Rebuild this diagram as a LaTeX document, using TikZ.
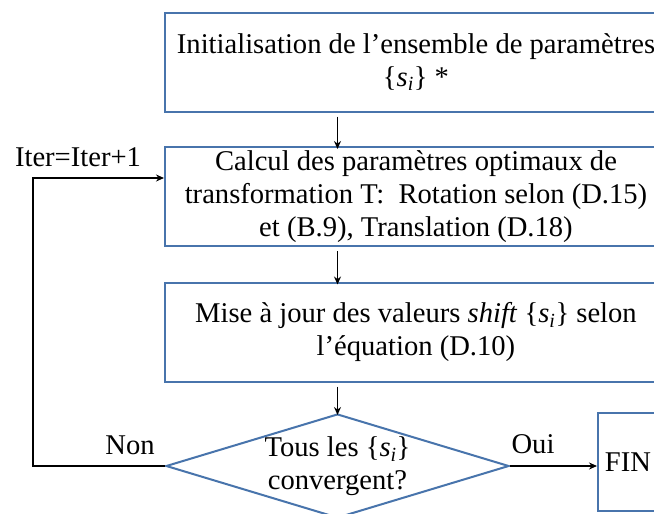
\documentclass[tikz,border=0pt]{standalone}
\usepackage{fontspec}
\setmainfont{Liberation Serif}
\usetikzlibrary{shapes.geometric,arrows.meta}
\definecolor{boxblue}{RGB}{72,116,172}
\newcommand{\si}{\{\textit{s}\textsubscript{\textit{i}}\}}
\begin{document}
\begin{tikzpicture}[x=1pt,y=-1pt,
  every node/.style={font=\fontsize{28.6}{33}\selectfont, inner sep=0pt},
  box/.style={draw=boxblue, line width=2pt, minimum width=502pt, minimum height=99pt, align=center},
  arr/.style={draw=black, line width=1.8pt, -{Stealth[length=8pt,width=7pt]}}]
\path[use as bounding box, clip] (0,0) rectangle (654,514);
\fill[white] (0,0) rectangle (654,514);
\node[box] (b1) at (416,62) {Initialisation de l’ensemble de paramètres\\ \si{} *};
\node[box] (b2) at (416,196.5) {Calcul des paramètres optimaux de\\ transformation T:\ \ Rotation selon (D.15)\\ et (B.9), Translation (D.18)};
\node[box] (b3) at (416,332) {Mise à jour des valeurs \textit{shift} \si{} selon\\ l’équation (D.10)};
\node[diamond, draw=boxblue, line width=2pt, minimum width=343pt, minimum height=104pt, aspect=3.3,
  label={[align=center, font=\fontsize{28.6}{33}\selectfont]center:Tous les \si\\ convergent?}] (d) at (337.5,466) {};
\node[draw=boxblue, line width=2pt, minimum width=60pt, minimum height=98pt] (fin) at (628,462) {FIN};
\node (it) at (78,157) {Iter=Iter+1};
\node (non) at (130,445) {Non};
\node (oui) at (533,444) {Oui};
\coordinate (lp) at (33,178);
\draw[arr] (b1.south -| d.north) ++(0,4) -- ([yshift=-3pt]b2.north -| d.north);
\draw[arr] (b2.south -| d.north) ++(0,4) -- ([yshift=-3pt]b3.north -| d.north);
\draw[arr] (b3.south -| d.north) ++(0,4) -- ([yshift=-2pt]d.north);
\draw[arr] (d.west) -| (lp) -- (lp -| b2.west);
\draw[arr] (d.east) -- (d.east -| fin.west);
\end{tikzpicture}
\end{document}
